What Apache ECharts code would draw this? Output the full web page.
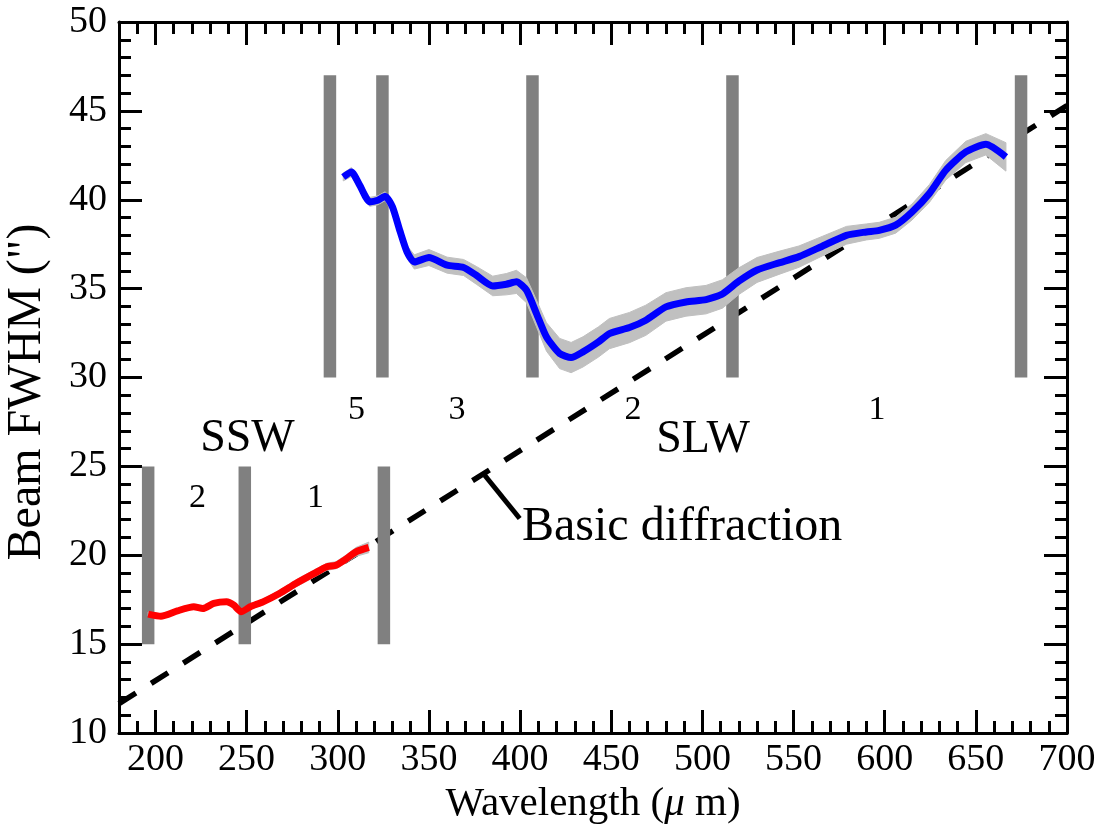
<!DOCTYPE html>
<html>
<head>
<meta charset="utf-8">
<script src="https://cdn.jsdelivr.net/npm/echarts@6/dist/echarts.min.js"></script>
<style>html,body{margin:0;padding:0;background:#fff}#c{width:1108px;height:835px}</style>
</head>
<body>
<div id="c"></div>
<script>
// ---- data ----
const sswWave = [196, 203, 212, 221, 226, 232, 239, 243, 247, 252, 259, 268, 277, 287, 294, 299, 305, 310, 317];
const sswBeam = [16.69, 16.57, 16.87, 17.1, 17.0, 17.29, 17.38, 17.19, 16.82, 17.1, 17.38, 17.85, 18.41, 18.97, 19.35, 19.44, 19.82, 20.19, 20.44];
const sswErr  = [0.12, 0.12, 0.12, 0.12, 0.12, 0.12, 0.12, 0.12, 0.15, 0.15, 0.15, 0.18, 0.2, 0.2, 0.2, 0.2, 0.22, 0.25, 0.3];

const slwWave = [303, 307.5, 312, 317.5, 322, 326, 330, 334, 338, 342, 350, 360, 369, 376, 385, 392.5, 398, 403.5, 409, 414.5, 421.7, 428, 434.5, 443, 449, 460, 469, 480, 491, 502, 511, 520, 530, 542, 553, 566, 579, 590, 597, 606, 615, 624.5, 633.5, 644.5, 655.5, 666.5];
const slwBeam = [41.28, 41.56, 40.82, 39.88, 39.97, 40.2, 39.6, 38.28, 37.06, 36.5, 36.75, 36.32, 36.19, 35.75, 35.15, 35.25, 35.38, 34.91, 33.6, 32.28, 31.35, 31.12, 31.44, 32.0, 32.47, 32.81, 33.22, 33.97, 34.25, 34.38, 34.7, 35.42, 36.05, 36.45, 36.8, 37.4, 38.0, 38.19, 38.28, 38.57, 39.31, 40.35, 41.66, 42.69, 43.12, 42.41];
const slwErr  = [0.22, 0.25, 0.25, 0.25, 0.25, 0.25, 0.3, 0.3, 0.35, 0.4, 0.45, 0.45, 0.45, 0.5, 0.55, 0.6, 0.65, 0.7, 0.75, 0.8, 0.85, 0.85, 0.85, 0.85, 0.85, 0.85, 0.85, 0.8, 0.8, 0.8, 0.8, 0.75, 0.7, 0.65, 0.6, 0.55, 0.5, 0.45, 0.45, 0.45, 0.45, 0.5, 0.55, 0.6, 0.6, 0.8];

const diffWave = [180, 700];
const diffBeam = [11.65, 45.3];

const leaderWave = [380.6, 399.8];
const leaderBeam = [24.5, 22.07];

const sswBarWave = [196, 249, 325.3];
const sswBarRange = [15, 25];
const slwBarWave = [295.7, 324.5, 406.8, 516.5, 674.8];
const slwBarRange = [30, 47];

const xTickMin = 180, xTickMax = 700;
const yTickMin = 10, yTickMax = 50;

// ---- chart ----
const FONT = 'Liberation Serif';
const chart = echarts.init(document.getElementById('c'), null, {renderer: 'canvas'});
const zip = (a, b) => a.map((v, i) => [v, b[i]]);

function axisCommon(showLabel) {
  return {
    axisLine: {show: true, onZero: false, lineStyle: {color: '#000', width: 3}},
    axisTick: {show: true, inside: true, length: 23, lineStyle: {color: '#000', width: 3}},
    minorTick: {show: true, splitNumber: 5, length: 12, lineStyle: {color: '#000', width: 3}},
    splitLine: {show: false},
    minorSplitLine: {show: false},
    axisLabel: {show: showLabel, color: '#000', fontFamily: FONT, fontSize: 38}
  };
}

const xBottom = Object.assign(axisCommon(true), {
  type: 'value', position: 'bottom', min: xTickMin, max: xTickMax,
  splitNumber: 10, minInterval: 50, maxInterval: 50, nameLocation: 'middle'
});
xBottom.axisLabel.margin = 8;
xBottom.axisLabel.showMinLabel = false;
xBottom.name = 'Wavelength ({i|μ} m)';
xBottom.nameGap = 30;
xBottom.nameTextStyle = {color: '#000', fontFamily: FONT, fontSize: 41,
  rich: {i: {fontFamily: FONT, fontSize: 41, fontStyle: 'italic', color: '#000'}}};

const xTop = Object.assign(axisCommon(false), {
  type: 'value', position: 'top', min: xTickMin, max: xTickMax,
  splitNumber: 10, minInterval: 50, maxInterval: 50
});

const yLeft = Object.assign(axisCommon(true), {
  type: 'value', position: 'left', min: yTickMin, max: yTickMax, interval: 5
});
yLeft.axisLabel.margin = 12;

const yRight = Object.assign(axisCommon(false), {
  type: 'value', position: 'right', min: yTickMin, max: yTickMax, interval: 5
});

const series = [];

// diffraction dashed line
series.push({
  type: 'line', name: 'diffraction', data: zip(diffWave, diffBeam), symbol: 'none', z: 2,
  lineStyle: {color: '#000', width: 5.5, type: [20, 18], cap: 'butt'}
});

// gray channel bars
function pushBars(xs, range) {
  xs.forEach(x => {
    series.push({
      type: 'line', data: [[x, range[0]], [x, range[1]]], symbol: 'none', z: 3,
      lineStyle: {color: '#808080', width: 12.5, cap: 'butt'}
    });
  });
}
pushBars(sswBarWave, sswBarRange);
pushBars(slwBarWave, slwBarRange);

// leader line
series.push({
  type: 'line', data: zip(leaderWave, leaderBeam), symbol: 'none', z: 3,
  lineStyle: {color: '#000', width: 5, cap: 'butt'}
});

// error bands drawn as polygons through the axis scales
function pushBand(xs, ys, es) {
  series.push({
    type: 'custom', z: 4, clip: true,
    data: xs.map((x, i) => [x, ys[i] - es[i], ys[i] + es[i]]),
    renderItem: function (params, api) {
      if (params.dataIndex !== 0) return null;
      const upper = xs.map((x, i) => api.coord([x, ys[i] + es[i]]));
      const lower = xs.map((x, i) => api.coord([x, ys[i] - es[i]])).reverse();
      return {
        type: 'polygon',
        shape: {points: upper.concat(lower)},
        style: {fill: '#c0c0c0', stroke: '#c0c0c0', lineWidth: 1}
      };
    }
  });
}
pushBand(sswWave, sswBeam, sswErr);
pushBand(slwWave, slwBeam, slwErr);

// main curves
series.push({
  type: 'line', name: 'SSW', data: zip(sswWave, sswBeam), symbol: 'none', smooth: 0.2, z: 5,
  lineStyle: {color: '#ff0000', width: 7}
});
series.push({
  type: 'line', name: 'SLW', data: zip(slwWave, slwBeam), symbol: 'none', smooth: 0.2, z: 5,
  lineStyle: {color: '#0000ff', width: 7}
});

function txt(s, x, y, size, align, rot) {
  return {
    type: 'text', x: x, y: y, z: 10, rotation: rot || 0,
    style: {text: s, fontFamily: FONT, fontSize: size, fill: '#000',
      align: align || 'center', verticalAlign: 'middle'}
  };
}

const option = {
  animation: false,
  backgroundColor: '#fff',
  grid: {left: 119, right: 41, top: 22, bottom: 102, containLabel: false},
  xAxis: [xBottom, xTop],
  yAxis: [yLeft, yRight],
  series: series,
  graphic: [
    txt('Beam FWHM (")', 27, 392, 48, 'center', Math.PI / 2),
    txt('SSW', 247.5, 439, 46),
    txt('SLW', 703, 440, 46),
    txt('5', 356.5, 410, 34),
    txt('3', 457, 410, 34),
    txt('2', 633, 410, 34),
    txt('1', 877, 410, 34),
    txt('2', 197.5, 498, 34),
    txt('1', 315.5, 498, 34),
    txt('Basic diffraction', 522, 527.5, 48, 'left')
  ]
};
chart.setOption(option);
</script>
</body>
</html>
